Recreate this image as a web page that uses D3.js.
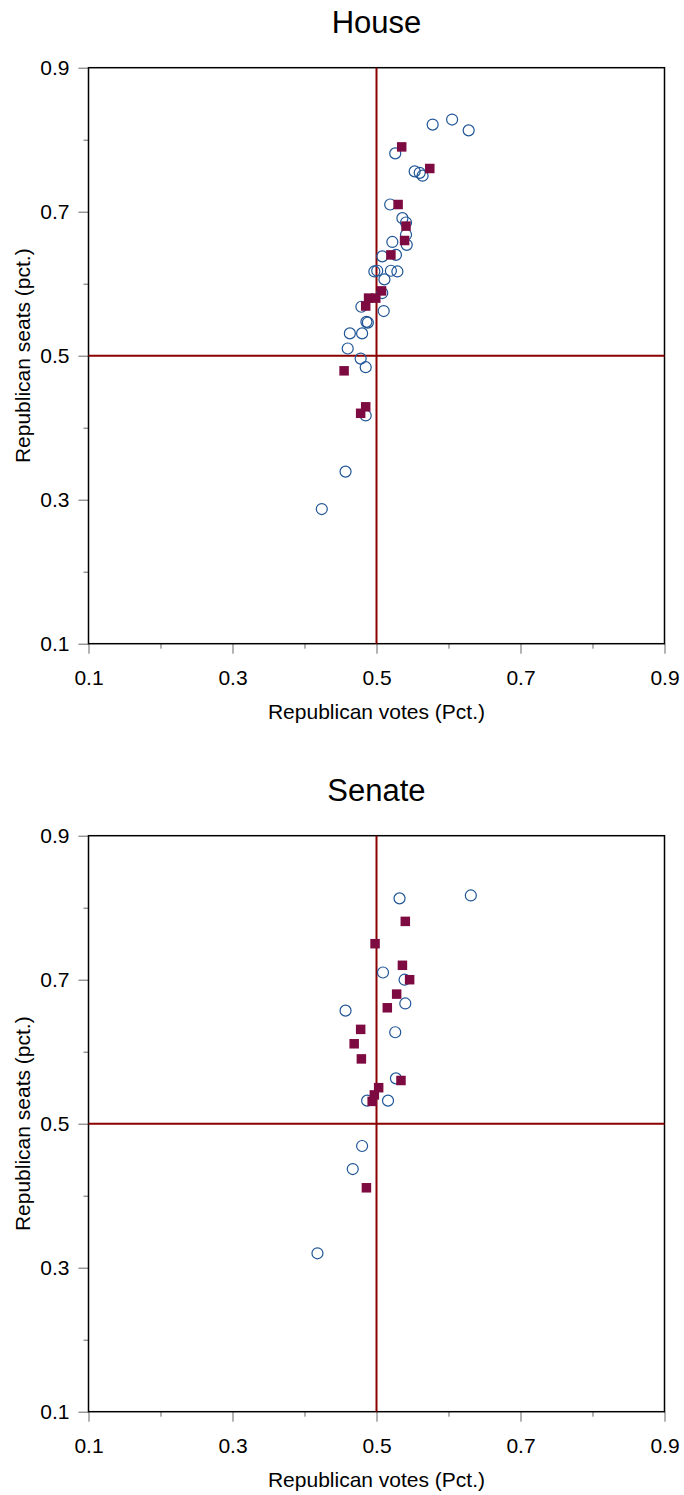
<!DOCTYPE html>
<html>
<head>
<meta charset="utf-8">
<script src="https://cdn.jsdelivr.net/npm/d3@7.9.0/dist/d3.min.js"></script>
<style>
  body { margin: 0; background: #fff; }
  svg { display: block; font-family: "Liberation Sans", Arial, sans-serif; }
</style>
</head>
<body>
<script>
// House: open circles (x = votes share, y = seats share)
const houseCircleX = [0.578, 0.605, 0.628, 0.526, 0.553, 0.560, 0.564, 0.519, 0.536, 0.541, 0.541, 0.542, 0.522, 0.508, 0.527, 0.497, 0.501, 0.520, 0.529, 0.511, 0.508, 0.479, 0.510, 0.486, 0.488, 0.463, 0.480, 0.460, 0.478, 0.485, 0.485, 0.457, 0.424];
const houseCircleY = [0.821, 0.828, 0.813, 0.781, 0.756, 0.754, 0.750, 0.710, 0.691, 0.685, 0.668, 0.654, 0.658, 0.638, 0.640, 0.617, 0.618, 0.618, 0.617, 0.606, 0.587, 0.568, 0.562, 0.547, 0.546, 0.531, 0.531, 0.510, 0.496, 0.484, 0.417, 0.339, 0.287];
// House: filled squares
const houseSquareX = [0.535, 0.574, 0.530, 0.541, 0.539, 0.520, 0.507, 0.489, 0.499, 0.485, 0.455, 0.485, 0.478];
const houseSquareY = [0.790, 0.760, 0.710, 0.680, 0.660, 0.640, 0.590, 0.580, 0.580, 0.569, 0.479, 0.429, 0.420];

// Senate: open circles
const senateCircleX = [0.532, 0.631, 0.509, 0.539, 0.540, 0.457, 0.526, 0.527, 0.487, 0.516, 0.480, 0.467, 0.418];
const senateCircleY = [0.813, 0.817, 0.710, 0.700, 0.667, 0.657, 0.627, 0.563, 0.532, 0.532, 0.469, 0.437, 0.320];
// Senate: filled squares
const senateSquareX = [0.540, 0.498, 0.536, 0.546, 0.528, 0.515, 0.478, 0.469, 0.479, 0.534, 0.503, 0.497, 0.494, 0.486];
const senateSquareY = [0.781, 0.750, 0.720, 0.700, 0.680, 0.661, 0.631, 0.611, 0.590, 0.560, 0.550, 0.540, 0.531, 0.411];

const majorTicks = [0.1, 0.3, 0.5, 0.7, 0.9];
const minorTicks = [0.2, 0.4, 0.6, 0.8];
const refValue = 0.5;

const panels = [
  { title: "House", top: 67.7, cx: houseCircleX, cy: houseCircleY, sx: houseSquareX, sy: houseSquareY },
  { title: "Senate", top: 835.7, cx: senateCircleX, cy: senateCircleY, sx: senateSquareX, sy: senateSquareY }
];

const W = 684, H = 1495;
const left = 88.5, size = 576;

const svg = d3.select("body").append("svg")
  .attr("width", W)
  .attr("height", H);

panels.forEach(p => {
  const x = d3.scaleLinear().domain([0.1, 0.9]).range([left, left + size]);
  const y = d3.scaleLinear().domain([0.1, 0.9]).range([p.top + size, p.top]);
  const g = svg.append("g");

  // title
  g.append("text")
    .attr("x", left + size / 2)
    .attr("y", p.top - 35)
    .attr("text-anchor", "middle")
    .style("font-size", "31px")
    .text(p.title);

  // minor ticks (no labels)
  g.append("g")
    .attr("transform", `translate(0,${p.top + size})`)
    .call(d3.axisBottom(x).tickValues(minorTicks).tickSize(5).tickFormat(""))
    .call(a => a.select(".domain").remove())
    .call(a => a.selectAll("line").attr("stroke", "#666"));
  g.append("g")
    .attr("transform", `translate(${left},0)`)
    .call(d3.axisLeft(y).tickValues(minorTicks).tickSize(5).tickFormat(""))
    .call(a => a.select(".domain").remove())
    .call(a => a.selectAll("line").attr("stroke", "#666"));

  // major ticks with labels
  const xAxis = g.append("g")
    .attr("transform", `translate(0,${p.top + size})`)
    .call(d3.axisBottom(x).tickValues(majorTicks).tickSize(10).tickPadding(16).tickFormat(d3.format(".1f")));
  xAxis.select(".domain").remove();
  xAxis.selectAll("line").attr("stroke", "#666");
  xAxis.selectAll("text").style("font-size", "21px").attr("fill", "#000");

  const yAxis = g.append("g")
    .attr("transform", `translate(${left},0)`)
    .call(d3.axisLeft(y).tickValues(majorTicks).tickSize(10).tickPadding(9).tickFormat(d3.format(".1f")));
  yAxis.select(".domain").remove();
  yAxis.selectAll("line").attr("stroke", "#666");
  yAxis.selectAll("text").style("font-size", "21px").attr("fill", "#000");

  // frame
  g.append("rect")
    .attr("x", left)
    .attr("y", p.top)
    .attr("width", size)
    .attr("height", size)
    .attr("fill", "none")
    .attr("stroke", "#000")
    .attr("stroke-width", 1.5);

  // reference lines at 0.5
  g.append("line")
    .attr("x1", x(refValue)).attr("x2", x(refValue))
    .attr("y1", p.top).attr("y2", p.top + size)
    .attr("stroke", "#8b0000").attr("stroke-width", 2);
  g.append("line")
    .attr("x1", left).attr("x2", left + size)
    .attr("y1", y(refValue)).attr("y2", y(refValue))
    .attr("stroke", "#8b0000").attr("stroke-width", 2);

  // circles
  g.append("g").selectAll("circle")
    .data(p.cx.map((v, i) => [v, p.cy[i]]))
    .join("circle")
    .attr("cx", d => x(d[0]))
    .attr("cy", d => y(d[1]))
    .attr("r", 5.5)
    .attr("fill", "none")
    .attr("stroke", "#1f5596")
    .attr("stroke-width", 1.2);

  // squares
  const s = 9.5;
  g.append("g").selectAll("rect")
    .data(p.sx.map((v, i) => [v, p.sy[i]]))
    .join("rect")
    .attr("x", d => x(d[0]) - s / 2)
    .attr("y", d => y(d[1]) - s / 2)
    .attr("width", s)
    .attr("height", s)
    .attr("fill", "#7d0a40");

  // axis titles
  g.append("text")
    .attr("x", left + size / 2)
    .attr("y", p.top + size + 75)
    .attr("text-anchor", "middle")
    .style("font-size", "21px")
    .text("Republican votes (Pct.)");

  g.append("text")
    .attr("transform", `translate(30,${p.top + size / 2}) rotate(-90)`)
    .attr("text-anchor", "middle")
    .style("font-size", "21px")
    .text("Republican seats (pct.)");
});
</script>
</body>
</html>
